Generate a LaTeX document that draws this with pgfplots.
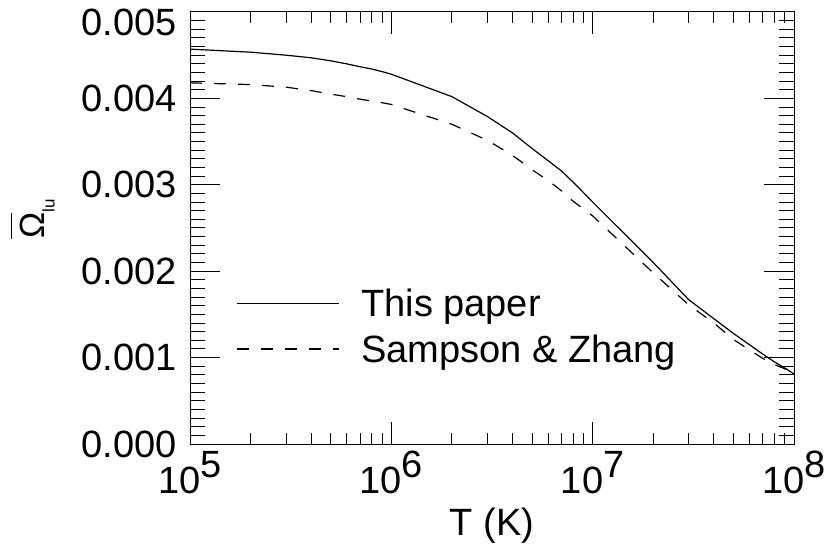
\documentclass[border=0pt]{standalone}
\usepackage{fontspec}
\setmainfont{Liberation Sans}
\usepackage{pgfplots}
\pgfplotsset{compat=1.18}
\newcommand{\OmegaBar}{\setbox0\hbox{Ω}\rlap{\raisebox{\dimexpr\ht0+8bp\relax}{\rule{\wd0}{1.1bp}}}\box0}
\newcommand{\bigfont}{\fontsize{38bp}{45bp}\selectfont}
\newcommand{\ex}[1]{10\raisebox{16bp}{#1}}
\begin{document}
\begin{tikzpicture}
\path[use as bounding box] (-190bp,-101bp) rectangle (638bp,444bp);
\begin{axis}[
  at={(0,0)}, anchor=south west, scale only axis,
  width=604bp, height=432bp,
  xmode=log, xmin=1e5, xmax=1e8, ymin=0, ymax=0.005,
  xtick={1e5,1e6,1e7,1e8},
  xticklabels={\ex{5},\ex{6},\ex{7},\ex{8}},
  ytick={0,0.001,0.002,0.003,0.004,0.005},
  yticklabels={0.000,0.001,0.002,0.003,0.004,\raisebox{-10bp}[\height][0pt]{0.005}},
  minor ytick={0.0001,0.0002,0.0003,0.0004,0.0005,0.0006,0.0007,0.0008,0.0009,
    0.0011,0.0012,0.0013,0.0014,0.0015,0.0016,0.0017,0.0018,0.0019,
    0.0021,0.0022,0.0023,0.0024,0.0025,0.0026,0.0027,0.0028,0.0029,
    0.0031,0.0032,0.0033,0.0034,0.0035,0.0036,0.0037,0.0038,0.0039,
    0.0041,0.0042,0.0043,0.0044,0.0045,0.0046,0.0047,0.0048,0.0049},
  scaled y ticks=false,
  every x tick label/.style={anchor=base, yshift=-49bp, inner sep=0pt, font=\bigfont},
  every y tick label/.style={anchor=east, xshift=-13bp, inner sep=0pt, font=\bigfont},
  xtick style={/pgfplots/major tick length=22bp, /pgfplots/minor tick length=11bp, line width=1bp, black},
  ytick style={/pgfplots/major tick length=30bp, /pgfplots/minor tick length=15bp, line width=1bp, black},
  axis line style={line width=1bp},
  tick align=inside,
  xlabel={T (K)},
  every axis x label/.style={at={(axis description cs:0.5,0)}, anchor=base, yshift=-91bp, font=\bigfont, inner sep=0pt},
  ylabel={\OmegaBar\raisebox{-10bp}{\fontsize{17bp}{17bp}\selectfont lu}},
  every axis y label/.style={at={(axis description cs:-0.26,0.5208)}, rotate=90, anchor=center, font=\fontsize{35bp}{40bp}\selectfont, inner sep=0pt},
  legend style={draw=none, fill=none, at={(axis description cs:0.0762,0.3588)}, anchor=north west,
    font=\bigfont, inner sep=0pt, outer sep=0pt, row sep=16.5bp, column sep=22bp,
    nodes={inner sep=0pt}},
  legend cell align=left,
  legend image code/.code={\draw[#1] (0bp,0bp) -- (102bp,0bp);},
]
\addplot[black, line width=1.2bp] coordinates {
(1e5,0.00457) (2e5,0.004535) (3e5,0.00450) (4e5,0.00447) (5e5,0.004435)
(6e5,0.00440) (7e5,0.004366) (8e5,0.00434) (9e5,0.00431) (1e6,0.00428)
(2e6,0.00402) (3e6,0.00379) (4e6,0.00360) (5e6,0.00342) (6e6,0.00328)
(7e6,0.00316) (8e6,0.00303) (9e6,0.00291) (1e7,0.00280)
(2e7,0.00210) (3e7,0.00167) (4e7,0.00145) (5e7,0.00128) (6e7,0.00115)
(7e7,0.00104) (8e7,0.00095) (9e7,0.00088) (1e8,0.00081)
};
\addlegendentry{This paper}
\addplot[black, line width=1.2bp, dash pattern=on 12bp off 12bp] coordinates {
(1e5,0.00418) (2e5,0.00416) (3e5,0.00413) (4e5,0.00409) (5e5,0.00405)
(6e5,0.00402) (7e5,0.00399) (8e5,0.00397) (9e5,0.00395) (1e6,0.00393)
(2e6,0.00370) (3e6,0.003515) (4e6,0.00334) (5e6,0.003175) (6e6,0.00305)
(7e6,0.00293) (8e6,0.00281) (9e6,0.00272) (1e7,0.00264)
(2e7,0.00198) (3e7,0.00161) (4e7,0.00140) (5e7,0.00121) (6e7,0.00109)
(7e7,0.00099) (8e7,0.00092) (9e7,0.00087) (1e8,0.00083)
};
\addlegendentry{Sampson \& Zhang}
\end{axis}
\end{tikzpicture}
\end{document}
